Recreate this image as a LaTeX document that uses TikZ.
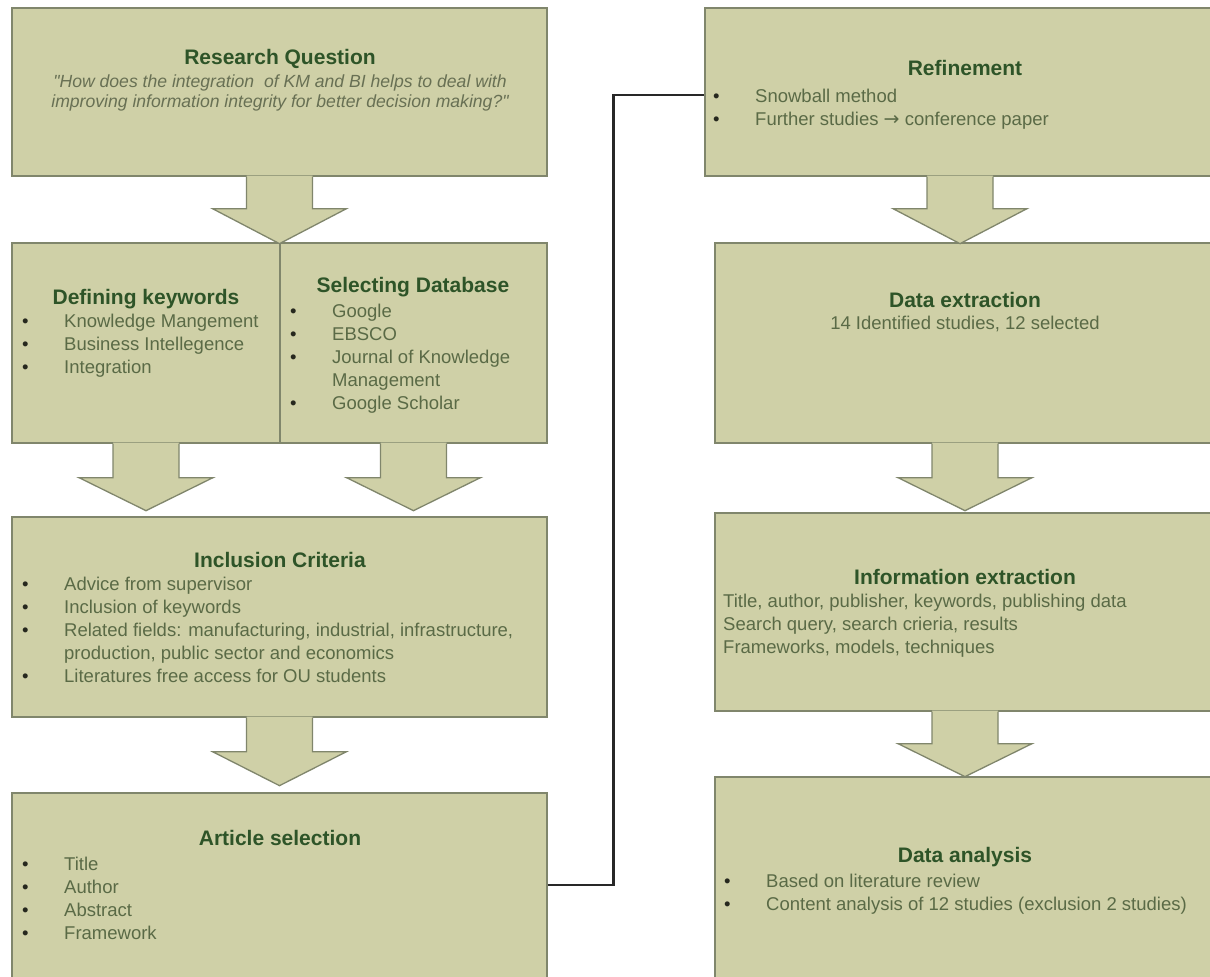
\documentclass[tikz,border=0pt]{standalone}
\usepackage{fontspec}
\setmainfont{Liberation Sans}
\newfontfamily\arrowfont{DejaVu Sans}
\usetikzlibrary{calc}

\definecolor{boxfill}{RGB}{207,208,167}
\definecolor{boxline}{RGB}{128,134,108}
\definecolor{headc}{RGB}{46,84,40}
\definecolor{bodyc}{RGB}{90,106,70}
\definecolor{quotec}{RGB}{104,112,84}
\definecolor{dotc}{RGB}{38,40,30}
\definecolor{linkc}{RGB}{40,40,40}

% bullet item and continuation line with a fixed hanging indent
\newcommand\bl[1]{\makebox[42pt][l]{\textcolor{dotc}{\textbullet}}#1}
\newcommand\cont[1]{\makebox[42pt][l]{}#1}
% straight double quote and a text-height right arrow
\newcommand\dq{{\addfontfeature{Ligatures=TeXOff}\char"22}}
\newcommand\rarr{{\arrowfont\fontsize{19}{19}\selectfont →}}

\tikzset{
  frame/.style={draw=boxline, line width=1.3pt, line join=miter},
  box/.style={frame, fill=boxfill, rectangle, inner sep=0pt},
  head/.style={font=\fontsize{21}{25}\selectfont\bfseries, text=headc,
               inner sep=0pt, anchor=base},
  body/.style={font=\fontsize{18.5}{23}\selectfont, text=bodyc,
               inner sep=0pt, anchor=base west},
  quote/.style={font=\fontsize{17.6}{20}\selectfont\itshape, text=quotec,
               inner sep=0pt, anchor=base},
  link/.style={draw=linkc, line width=2.6pt, line join=miter},
  pics/blockarrow/.style 2 args={code={
    \fill[boxfill] (-33,-1) -- (-33,#1) -- (-67,#1) -- (0,#2) -- (67,#1)
                   -- (33,#1) -- (33,-1) -- cycle;
    \draw[frame] (-33,0) -- (-33,#1) -- (-67,#1) -- (0,#2) -- (67,#1)
                 -- (33,#1) -- (33,0);
  }}
}

\begin{document}
\begin{tikzpicture}[x=1pt,y=-1pt]
\clip (0,0) rectangle (1210,977);
\fill[white] (0,0) rectangle (1210,977);

% ---------------- left column boxes ----------------
\node[box, minimum width=535pt, minimum height=168pt] (rq)  at (279.5,92)  {};
\node[box, minimum width=268pt, minimum height=200pt] (kw)  at (146,343)   {};
\node[box, minimum width=267pt, minimum height=200pt] (db)  at (413.5,343) {};
\node[box, minimum width=535pt, minimum height=200pt] (inc) at (279.5,617) {};
\node[box, minimum width=535pt, minimum height=207pt] (art) at (279.5,896.5) {};

% ---------------- right column boxes ----------------
\node[box, minimum width=510pt, minimum height=168pt] (ref) at (960,92)   {};
\node[box, minimum width=500pt, minimum height=200pt] (dex) at (965,343)  {};
\node[box, minimum width=500pt, minimum height=198pt] (iex) at (965,612)  {};
\node[box, minimum width=500pt, minimum height=223pt] (dan) at (965,888.5) {};

% ---------------- block arrows ----------------
\path (rq.south)  pic {blockarrow={32}{67}};
\path (kw.south)  pic {blockarrow={34}{67}};
\path (db.south)  pic {blockarrow={34}{67}};
\path (inc.south) pic {blockarrow={34}{68}};
\path (ref.south) pic {blockarrow={32}{67}};
\path (dex.south) pic {blockarrow={34}{67}};
\path (iex.south) pic {blockarrow={32}{65}};

% ---------------- texts: left column ----------------
\node[head] (rqh) at (280,64.5) {Research Question};
\node[quote] (rqq) at (280,87) {\parbox[t]{530pt}{\centering
  \dq How does the integration\ \ of KM and BI helps to deal with\\
  improving information integrity for better decision making?\dq}};

\node[head] (kwh) at (146,304.5) {Defining keywords};
\node[body] (kwl) at (22,327) {\parbox[t]{255pt}{%
  \bl{Knowledge Mangement}\\
  \bl{Business Intellegence}\\
  \bl{Integration}}};

\node[head] (dbh) at (413,292.5) {Selecting Database};
\node[body] (dbl) at (290,317) {\parbox[t]{255pt}{%
  \bl{Google}\\
  \bl{EBSCO}\\
  \bl{Journal of Knowledge}\\
  \cont{Management}\\
  \bl{Google Scholar}}};

\node[head] (inch) at (280,567.5) {Inclusion Criteria};
\node[body] (incl) at (22,590) {\parbox[t]{520pt}{%
  \bl{Advice from supervisor}\\
  \bl{Inclusion of keywords}\\
  \bl{Related fields: manufacturing, industrial, infrastructure,}\\
  \cont{production, public sector and economics}\\
  \bl{Literatures free access for OU students}}};

\node[head] (arth) at (280,845.5) {Article selection};
\node[body] (artl) at (22,870) {\parbox[t]{300pt}{%
  \bl{Title}\\
  \bl{Author}\\
  \bl{Abstract}\\
  \bl{Framework}}};

% ---------------- texts: right column ----------------
\node[head] (refh) at (965,75.5) {Refinement};
\node[body] (refl) at (713,102) {\parbox[t]{480pt}{%
  \bl{Snowball method}\\
  \bl{Further studies \rarr{} conference paper}}};

\node[head] (dexh) at (965,307.5) {Data extraction};
\node[body, anchor=base] (dexl) at (965,329) {14 Identified studies, 12 selected};

\node[head] (iexh) at (965,584.5) {Information extraction};
\node[body] (iexl) at (723,607) {\parbox[t]{480pt}{%
  Title, author, publisher, keywords, publishing data\\
  Search query, search crieria, results\\
  Frameworks, models, techniques}};

\node[head] (danh) at (965,862.5) {Data analysis};
\node[body] (danl) at (724,887) {\parbox[t]{480pt}{%
  \bl{Based on literature review}\\
  \bl{Content analysis of 12 studies (exclusion 2 studies)}}};

% ---------------- connector from article selection to refinement ----------------
\draw[link] ([yshift=11.5pt]art.east) -- ++(66,0) |- ([yshift=-3pt]ref.west);

\end{tikzpicture}
\end{document}
